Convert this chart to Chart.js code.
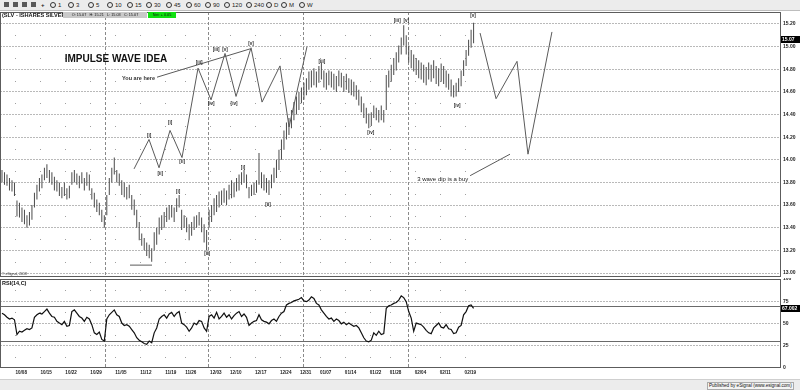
<!DOCTYPE html>
<html>
<head>
<meta charset="utf-8">
<title>SLV - iShares Silver</title>
<script src="https://cdn.jsdelivr.net/npm/chart.js@4.4.1/dist/chart.umd.min.js"></script>
<style>
  html, body { margin: 0; padding: 0; }
  body { width: 800px; height: 390px; position: relative; overflow: hidden; background: #fff;
         font-family: "Liberation Sans", Arial, sans-serif; color: #111; }
  #toolbar { position: absolute; left: 0; top: 0; width: 800px; height: 10px; background: #ececec;
             border-bottom: 1px solid #bdbdbd; }
  #toolbar span { position: absolute; top: 2px; font-size: 6px; line-height: 6px; color: #222; }
  #toolbar i { position: absolute; top: 2px; width: 4px; height: 4px; border: 1px solid #333; border-radius: 50%; }
  #toolbar b { position: absolute; top: 2px; width: 5px; height: 5px; background: #5a5a5a; }
  canvas { position: absolute; left: 0; }
  #price { top: 11px; }
  #rsi { top: 278px; }
  .lbl { position: absolute; white-space: nowrap; }
  #title { left: 2px; top: 12px; font-weight: bold; font-size: 5.6px; line-height: 7px; }
  #ohlc { left: 63px; top: 12px; width: 84px; height: 6px; background: #c9c9c9; font-size: 3.8px; line-height: 6px; text-align: center; }
  #net { left: 148px; top: 12px; width: 28px; height: 6px; background: #10e010; font-size: 3.8px; line-height: 6px; text-align: center; }
  #rsiName { left: 2px; top: 280px; font-weight: bold; font-size: 5.5px; line-height: 6px; }
  #copy { left: 2px; top: 272px; font-size: 3.5px; line-height: 4px; color: #333; }
  #status { position: absolute; left: 0; top: 379px; width: 800px; height: 11px; background: #ececec; border-top: 1px solid #cfcfcf; }
  #pub { position: absolute; left: 707px; top: 2px; font-size: 4.6px; line-height: 6px; border: 1px solid #aaa; padding: 0 1px; background: #f4f4f4; }
</style>
</head>
<body>
<div id="toolbar"></div>
<canvas id="price" width="800" height="266"></canvas>
<canvas id="rsi" width="800" height="100"></canvas>
<div class="lbl" id="title">(SLV - ISHARES SILVER</div>
<div class="lbl" id="ohlc">O: 15.07 &nbsp; H: 15.21 &nbsp; L: 15.03 &nbsp; C: 15.07</div>
<div class="lbl" id="net">Net: + 0.05</div>
<div class="lbl" id="rsiName">RSI(14,C)</div>
<div class="lbl" id="copy">&copy; eSignal, 2018</div>
<div id="status"><span id="pub">Published by eSignal (www.esignal.com)</span></div>
<script>
// ---- data ----
const dateLabels = ['10/08','10/15','10/22','10/29','11/05','11/12','11/19','11/26','12/03','12/10',
                    '12/17','12/24','12/31','01/07','01/14','01/22','01/28','02/04','02/11','02/19'];
// trading-day index of each labelled date
const labelDays = [4, 9, 14, 19, 24, 29, 34, 38, 43, 47, 52, 57, 61, 65, 70, 75, 79, 84, 89, 94];
const monthStartDays = [22, 42.6, 61.7, 82.7];
const firstBarDay = 1.3;
const barStep = 0.5;

const highs = [
  13.91,13.89,13.87,13.84,13.82,13.80,13.64,13.62,13.58,13.56,
  13.51,13.54,13.60,13.71,13.78,13.84,13.87,13.93,13.96,13.91,
  13.89,13.85,13.82,13.80,13.76,13.80,13.75,13.77,13.89,13.91,
  13.88,13.86,13.89,13.84,13.89,13.87,13.75,13.71,13.65,13.62,
  13.56,13.51,13.69,13.84,13.93,14.02,13.91,13.88,13.82,13.80,
  13.76,13.78,13.69,13.65,13.56,13.45,13.35,13.31,13.27,13.25,
  13.22,13.36,13.40,13.49,13.51,13.54,13.58,13.60,13.60,13.58,
  13.66,13.69,13.56,13.51,13.49,13.43,13.45,13.50,13.51,13.54,
  13.49,13.43,13.38,13.56,13.60,13.66,13.69,13.72,13.73,13.75,
  13.73,13.78,13.82,13.80,13.84,13.87,13.89,13.91,13.87,13.76,
  13.78,13.80,13.82,14.06,13.89,13.87,13.84,13.82,13.87,13.93,
  14.00,14.09,14.18,14.26,14.33,14.37,14.44,14.51,14.56,14.60,
  14.64,14.68,14.72,14.78,14.79,14.81,14.78,14.83,14.86,14.79,
  14.77,14.79,14.78,14.76,14.74,14.79,14.77,14.74,14.76,14.72,
  14.71,14.69,14.66,14.62,14.56,14.50,14.46,14.41,14.42,14.48,
  14.46,14.44,14.48,14.44,14.75,14.79,14.84,14.90,14.95,15.01,
  15.08,15.19,15.10,15.01,14.97,14.93,14.90,14.88,14.86,14.84,
  14.82,14.86,14.84,14.88,14.83,14.81,14.85,14.83,14.79,14.76,
  14.71,14.66,14.68,14.72,14.79,14.88,14.97,15.06,15.15,15.21
];
const lows = [
  13.80,13.78,13.77,13.73,13.72,13.68,13.50,13.49,13.45,13.43,
  13.40,13.42,13.47,13.58,13.65,13.72,13.75,13.82,13.84,13.80,
  13.78,13.73,13.72,13.68,13.66,13.68,13.65,13.66,13.78,13.80,
  13.78,13.75,13.79,13.73,13.77,13.73,13.65,13.58,13.54,13.51,
  13.45,13.40,13.51,13.69,13.80,13.87,13.80,13.77,13.69,13.67,
  13.65,13.66,13.56,13.51,13.40,13.29,13.24,13.20,13.15,13.13,
  13.10,13.20,13.25,13.34,13.38,13.40,13.45,13.47,13.49,13.45,
  13.54,13.58,13.38,13.40,13.36,13.29,13.33,13.38,13.40,13.42,
  13.36,13.27,13.20,13.40,13.45,13.51,13.54,13.58,13.60,13.62,
  13.60,13.65,13.66,13.67,13.72,13.73,13.78,13.80,13.75,13.66,
  13.68,13.69,13.71,13.78,13.75,13.73,13.71,13.69,13.75,13.80,
  13.84,13.91,14.00,14.09,14.18,14.22,14.28,14.35,14.40,14.44,
  14.50,14.53,14.57,14.62,14.64,14.66,14.64,14.68,14.71,14.64,
  14.62,14.66,14.64,14.62,14.60,14.65,14.64,14.60,14.62,14.59,
  14.57,14.56,14.53,14.48,14.42,14.37,14.32,14.28,14.30,14.37,
  14.35,14.33,14.35,14.33,14.44,14.64,14.69,14.75,14.79,14.86,
  14.93,15.01,14.93,14.86,14.81,14.78,14.75,14.72,14.71,14.68,
  14.66,14.71,14.69,14.72,14.67,14.65,14.69,14.67,14.64,14.62,
  14.56,14.55,14.56,14.60,14.65,14.74,14.83,14.92,14.99,15.03
];
const rsi = [
  61.6,59.8,57.0,55.1,56.1,54.2,37.6,41.3,40.4,42.3,
  44.1,43.2,45.0,57.0,59.8,61.6,60.7,63.4,66.2,61.6,
  57.9,57.0,52.4,50.5,48.7,52.4,46.9,47.8,63.4,65.3,
  61.6,57.9,56.1,52.4,57.0,55.1,48.7,39.5,37.6,40.4,
  32.1,30.3,55.1,59.8,62.5,65.3,59.8,57.9,50.5,47.8,
  48.7,46.9,43.2,39.5,34.0,31.2,29.4,27.5,26.6,30.3,
  28.4,39.5,45.0,55.1,57.9,59.8,56.1,60.7,62.5,57.9,
  61.6,63.4,50.5,48.7,45.9,41.3,45.0,50.5,48.7,53.3,
  52.4,45.0,41.3,57.9,59.8,56.1,62.5,55.1,57.9,61.6,
  57.0,59.8,55.1,58.8,61.6,63.4,57.9,60.7,57.0,47.8,
  50.5,52.4,53.3,59.8,54.2,52.4,51.5,49.6,53.3,55.1,
  52.4,57.9,61.6,63.4,70.8,72.6,73.6,75.4,76.3,77.2,
  79.1,75.4,74.5,76.3,80.0,78.2,72.6,70.8,65.3,61.6,
  57.9,55.1,56.1,52.4,55.1,53.3,49.6,51.5,48.7,50.5,
  48.7,46.9,47.8,45.0,39.5,34.0,30.3,29.4,31.2,39.5,
  36.7,41.3,37.6,38.6,67.1,69.9,70.8,72.6,73.6,76.3,
  81.0,79.1,74.5,63.4,56.1,41.3,50.5,49.6,48.7,45.9,
  42.3,39.5,38.6,45.0,47.8,50.5,45.9,45.0,48.7,44.1,
  43.2,38.6,39.5,45.9,47.8,59.8,63.4,69.9,70.8,67.0
];

const priceTicks = [13.0, 13.2, 13.4, 13.6, 13.8, 14.0, 14.2, 14.4, 14.6, 14.8, 15.0, 15.2];
const priceDotLevels = [13.1, 13.3, 13.5, 13.7, 13.9, 14.1, 14.3, 14.5, 14.7, 14.9, 15.1];
const rsiTicks = [0, 25, 50, 75, 100];
const rsiDotLevels = [12.5, 37.5, 62.5, 87.5];
const rsiBands = [30, 70];
const lastClose = 15.07;
const lastRsi = 67.002;

// drawn wave annotations (day index, price)
const impulseDays   = [27.76, 30.76, 32.77, 34.97, 37.37, 40.58, 43.19, 45.99, 48.2, 51.2, 53.41, 57.01, 58.82, 62.42];
const impulsePrices = [13.92, 14.18, 13.93, 14.26, 14.02, 14.81, 14.53, 14.94, 14.56, 14.99, 14.51, 14.83, 14.29, 15.00];
const hereDays = [32.36, 51.0];
const herePrices = [14.73, 14.98];
const lowLineDays = [26.95, 31.36];
const lowLinePrices = [13.07, 13.07];
const projDays = [97.1, 100.3, 104.5, 106.7, 111.5];
const projPrices = [15.12, 14.54, 14.87, 14.05, 15.13];
const dipDays = [95.1, 103.1];
const dipPrices = [13.86, 14.05];

const waveText  = ['[i]','[ii]','[i]','[ii]','[iii]','[iv]','[iii]','[v]','[iv]','[v]',
                   '[i]','[ii]','[i]','[ii]','[iii]','[iv]','[iii]','[v]','[iv]','[v]'];
const waveDays  = [36.6, 42.4, 49.6, 54.6, 65.4, 75.2, 80.5, 82.3, 92.5, 95.7,
                   30.8, 33.0, 35.0, 37.4, 40.8, 43.2, 44.2, 46.0, 47.8, 51.2];
const wavePrices = [13.72, 13.17, 13.93, 13.60, 14.87, 14.24, 15.23, 15.23, 14.48, 15.27,
                    14.21, 13.88, 14.33, 13.98, 14.86, 14.50, 14.97, 14.97, 14.50, 15.03];

const noteText   = ['IMPULSE WAVE IDEA', 'You are here', '3 wave dip is a buy'];
const noteDays   = [24.15, 31.96, 84.5];
const notePrices = [14.89, 14.72, 13.83];

// ---- toolbar ----
const toolbar = document.getElementById('toolbar');
[4, 13, 22, 31].forEach(x => { const b = document.createElement('b'); b.style.left = x + 'px'; toolbar.appendChild(b); });
const plus = document.createElement('span'); plus.textContent = '+'; plus.style.left = '41px'; plus.style.fontWeight = 'bold'; toolbar.appendChild(plus);
const periods = ['1','3','5','10','15','30','45','60','90','120','240','D','M','W'];
const periodX = [50, 68, 88, 107, 127, 146, 166, 186, 205, 224, 246, 266, 281, 299];
periods.forEach((p, k) => {
  const c = document.createElement('i'); c.style.left = periodX[k] + 'px'; toolbar.appendChild(c);
  const s = document.createElement('span'); s.textContent = p; s.style.left = (periodX[k] + 8) + 'px'; toolbar.appendChild(s);
});

// ---- charts ----
Chart.defaults.font.family = '"Liberation Sans", Arial, sans-serif';
const xMin = 0.9, xMax = 157.4;
const gridGray = '#b9b9b9';

function toPoints(days, values) {
  return days.map((d, k) => ({ x: d, y: values[k] }));
}

function paneDecor(dotLevels, bandLevels, lastValue, lastLabel) {
  return {
    id: 'paneDecor',
    beforeDatasetsDraw(chart) {
      const { ctx, chartArea: a, scales: { x, y } } = chart;
      ctx.save();
      ctx.strokeStyle = '#8a8a8a';
      ctx.lineWidth = 1;
      ctx.setLineDash([3, 2]);
      monthStartDays.forEach(d => {
        const px = Math.round(x.getPixelForValue(d)) + 0.5;
        ctx.beginPath(); ctx.moveTo(px, a.top); ctx.lineTo(px, a.bottom); ctx.stroke();
      });
      ctx.setLineDash([]);
      ctx.strokeStyle = '#6a6a6a';
      bandLevels.forEach(v => {
        const py = Math.round(y.getPixelForValue(v)) + 0.5;
        ctx.beginPath(); ctx.moveTo(a.left, py); ctx.lineTo(a.right, py); ctx.stroke();
      });
      ctx.fillStyle = '#a0a0a0';
      labelDays.forEach(d => {
        const px = Math.round(x.getPixelForValue(d));
        dotLevels.forEach(v => ctx.fillRect(px, Math.round(y.getPixelForValue(v)), 1, 1));
      });
      ctx.restore();
    },
    afterDraw(chart) {
      const { ctx, chartArea: a, scales: { y } } = chart;
      ctx.save();
      ctx.strokeStyle = '#5c5c5c';
      ctx.lineWidth = 1;
      ctx.strokeRect(a.left + 0.5, a.top + 0.5, a.right - a.left - 1, a.bottom - a.top - 1);
      const py = y.getPixelForValue(lastValue);
      ctx.fillStyle = '#000';
      ctx.fillRect(a.right, Math.round(py) - 3, 19, 7);
      ctx.fillStyle = '#fff';
      ctx.font = 'bold 5px "Liberation Sans", Arial, sans-serif';
      ctx.textBaseline = 'middle';
      ctx.fillText(lastLabel, a.right + 1, py + 0.5);
      ctx.restore();
    }
  };
}

const waveNotes = {
  id: 'waveNotes',
  afterDatasetsDraw(chart) {
    const { ctx, scales: { x, y } } = chart;
    ctx.save();
    ctx.fillStyle = '#2a2a2a';
    ctx.textAlign = 'center';
    ctx.textBaseline = 'middle';
    ctx.font = 'bold 4.6px "Liberation Sans", Arial, sans-serif';
    waveText.forEach((t, k) => ctx.fillText(t, x.getPixelForValue(waveDays[k]), y.getPixelForValue(wavePrices[k])));
    ctx.fillStyle = '#111';
    ctx.font = 'bold 10px "Liberation Sans", Arial, sans-serif';
    ctx.fillText(noteText[0], x.getPixelForValue(noteDays[0]), y.getPixelForValue(notePrices[0]));
    ctx.textAlign = 'right';
    ctx.font = 'bold 5.5px "Liberation Sans", Arial, sans-serif';
    ctx.fillStyle = '#333';
    ctx.fillText(noteText[1], x.getPixelForValue(noteDays[1]), y.getPixelForValue(notePrices[1]));
    ctx.textAlign = 'left';
    ctx.font = '6px "Liberation Sans", Arial, sans-serif';
    ctx.fillStyle = '#222';
    ctx.fillText(noteText[2], x.getPixelForValue(noteDays[2]), y.getPixelForValue(notePrices[2]));
    ctx.restore();
  }
};

const lineStyle = { type: 'line', borderColor: '#5a5a5a', borderWidth: 1, pointRadius: 0, tension: 0, fill: false };

new Chart(document.getElementById('price'), {
  type: 'bar',
  data: {
    datasets: [
      { type: 'bar', data: highs.map((h, i) => ({ x: firstBarDay + i * barStep, y: [lows[i], h] })),
        backgroundColor: '#4a4a4a', barThickness: 1, inflateAmount: 0, order: 2 },
      Object.assign({ data: toPoints(impulseDays, impulsePrices), order: 1 }, lineStyle),
      Object.assign({ data: toPoints(hereDays, herePrices), order: 1 }, lineStyle),
      Object.assign({ data: toPoints(lowLineDays, lowLinePrices), order: 1 }, lineStyle),
      Object.assign({ data: toPoints(projDays, projPrices), order: 1 }, lineStyle),
      Object.assign({ data: toPoints(dipDays, dipPrices), order: 1 }, lineStyle)
    ]
  },
  options: {
    responsive: false,
    animation: false,
    events: [],
    layout: { padding: { top: 1, left: 0, right: 0, bottom: 0 } },
    plugins: { legend: { display: false }, tooltip: { enabled: false } },
    scales: {
      x: { type: 'linear', min: xMin, max: xMax, offset: false, display: false },
      y: {
        type: 'linear', position: 'right', min: 12.965, max: 15.306,
        afterBuildTicks: s => { s.ticks = priceTicks.map(v => ({ value: v })); },
        afterFit: s => { s.width = 19; s.paddingTop = 0; s.paddingBottom = 0; },
        ticks: { callback: v => v.toFixed(2), color: '#222', padding: 2,
                 font: { size: 5, weight: 'bold' } },
        grid: { color: gridGray, drawTicks: false, lineWidth: 1 },
        border: { display: false, dash: [2, 1] }
      }
    }
  },
  plugins: [paneDecor(priceDotLevels, [], lastClose, lastClose.toFixed(2)), waveNotes]
});

new Chart(document.getElementById('rsi'), {
  type: 'line',
  data: {
    datasets: [
      { data: rsi.map((v, i) => ({ x: firstBarDay + i * barStep, y: v })),
        borderColor: '#111', borderWidth: 1.2, pointRadius: 0, tension: 0, fill: false }
    ]
  },
  options: {
    responsive: false,
    animation: false,
    events: [],
    layout: { padding: { top: 1, left: 0, right: 0, bottom: 0 } },
    plugins: { legend: { display: false }, tooltip: { enabled: false } },
    scales: {
      x: {
        type: 'linear', min: xMin, max: xMax, offset: false,
        afterBuildTicks: s => { s.ticks = labelDays.map(v => ({ value: v })); },
        afterFit: s => { s.height = 10; s.paddingLeft = 0; s.paddingRight = 0; },
        ticks: { autoSkip: false, maxRotation: 0, align: 'start', padding: 2, color: '#222',
                 font: { size: 4.6, weight: 'bold' }, callback: (v, i) => dateLabels[i] },
        grid: { display: false, drawTicks: false },
        border: { display: false }
      },
      y: {
        type: 'linear', position: 'right', min: 0, max: 100,
        afterBuildTicks: s => { s.ticks = rsiTicks.map(v => ({ value: v })); },
        afterFit: s => { s.width = 19; s.paddingTop = 0; s.paddingBottom = 0; },
        ticks: { color: '#222', padding: 2, font: { size: 5, weight: 'bold' } },
        grid: { drawTicks: false, lineWidth: 1,
                color: c => (c.tick && (c.tick.value === 0 || c.tick.value === 100)) ? 'rgba(0,0,0,0)' : gridGray },
        border: { display: false, dash: [2, 1] }
      }
    }
  },
  plugins: [paneDecor(rsiDotLevels, rsiBands, lastRsi, lastRsi.toFixed(3))]
});
</script>
</body>
</html>
